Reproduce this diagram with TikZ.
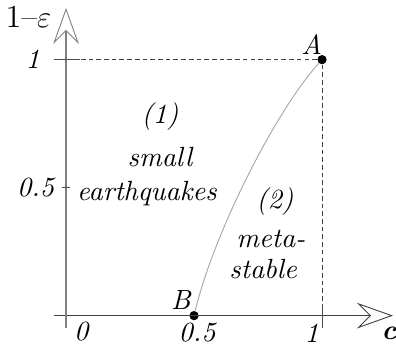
\documentclass[tikz,border=0pt]{standalone}
\usetikzlibrary{arrows.meta,positioning}
\begin{document}
\begin{tikzpicture}[
  x=3.5cm, y=3.5cm, font=\fontsize{10.8}{13}\selectfont,
  axis/.style={-{Stealth[open, length=14pt, width=10pt, inset=5pt, line width=0.35pt]}, line width=0.6pt},
  guide/.style={dash pattern=on 1.8pt off 1.2pt, line width=0.35pt, draw=black!75},
  tick/.style={line width=0.4pt, draw=black!70},
  lbl/.style={font=\fontsize{10.8}{13}\selectfont\itshape, inner sep=1pt},
  dot/.style={circle, fill=black, inner sep=0pt, minimum size=3.6pt},
]
  \useasboundingbox (-0.258,-0.117) rectangle (1.289,1.233);
  % --- corner points ---
  \node[dot] (A) at (1,1) {};
  \node[dot] (B) at (0.5,0) {};
  \coordinate (xs) at (-0.047,0);
  \coordinate (xe) at (1.277,0);
  \coordinate (ys) at (0,-0.05);
  \coordinate (ye) at (0,1.202);
  % --- axes ---
  \draw[axis, draw=black!75] (xs) -- (xe);
  \draw[axis, draw=black!50] (ys) -- (ye);
  % --- guides to A ---
  \draw[guide] (A) -- (0,1);
  \draw[guide] (A) -- (1,0);
  \draw[tick] (-0.047,1) -- (0.055,1);
  \draw[tick] (1,0.047) -- (1,-0.05);
  \draw[tick] (-0.015,0.5) -- (0.015,0.5);
  % --- boundary between the two regions ---
  \draw[black!35, line width=0.35pt] (B) .. controls (0.58,0.33) and (0.82,0.8) .. (A);
  % --- axis labels ---
  \node[anchor=west, inner sep=0pt, font=\fontsize{12.5}{14}\selectfont] (eps) at (-0.238,1.167) {1--$\varepsilon$};
  \node[lbl, anchor=east] (y1) at (-0.09,1.0) {1};
  \node[lbl, anchor=east] (yhalf) at (-0.035,0.502) {0.5};
  \node[lbl] (x0) at (0.059,-0.062) {0};
  \node[lbl] (xhalf) at (0.512,-0.068) {0.5};
  \node[lbl] (x1) at (0.96,-0.068) {1};
  \node[lbl] (c) at (1.262,-0.068) {\textbf{c}};
  \node[lbl] (Alab) at (0.96,1.058) {A};
  \node[lbl] (Blab) at (0.449,0.062) {B};
  % --- regions ---
  \node[lbl] (r1) at (0.367,0.778) {(1)};
  \node[lbl] (r1a) at (0.367,0.619) {small};
  \node[lbl] (r1b) at (0.316,0.475) {earthquakes};
  \node[lbl] (r2) at (0.816,0.444) {(2)};
  \node[lbl] (r2a) at (0.80,0.30) {meta-};
  \node[lbl] (r2b) at (0.77,0.183) {stable};
\end{tikzpicture}
\end{document}
